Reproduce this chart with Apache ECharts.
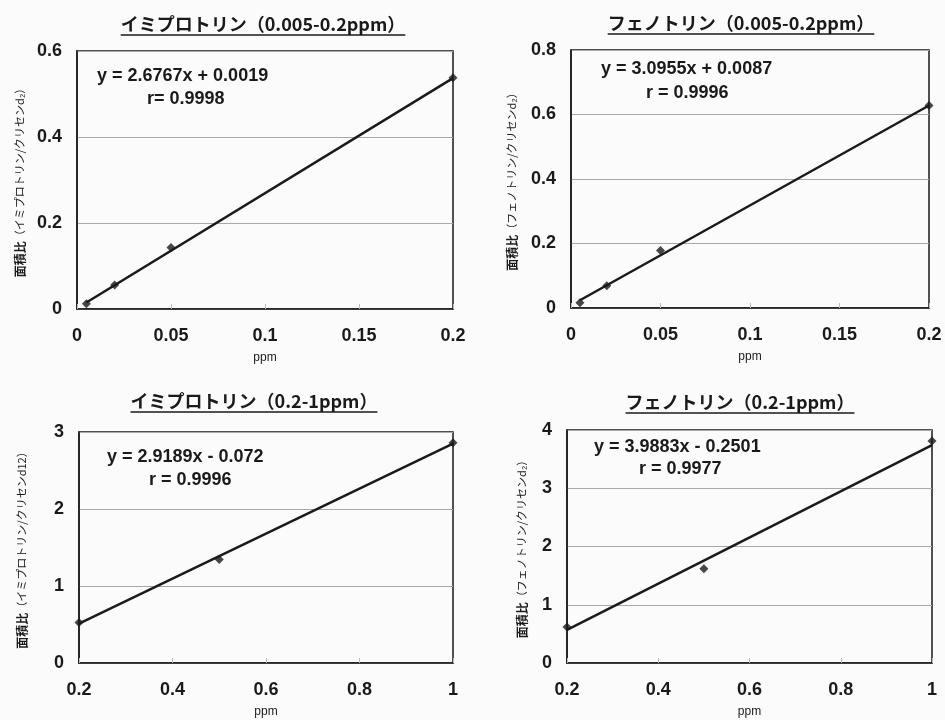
<!DOCTYPE html>
<html><head><meta charset="utf-8">
<script src="https://cdn.jsdelivr.net/npm/echarts@6/dist/echarts.min.js"></script>
<style>html,body{margin:0;padding:0;background:#fbfbfb}#c{width:945px;height:720px}</style>
</head><body><div id="c"></div>
<script>
// ---- data ----
const titles = ['イミプロトリン（0.005-0.2ppm）', 'フェノトリン（0.005-0.2ppm）', 'イミプロトリン（0.2-1ppm）', 'フェノトリン（0.2-1ppm）'];
const yNamesHead = ['面積比', '面積比', '面積比', '面積比'];
const yNamesTail = ['（イミプロトリン/クリセンd₂）', '（フェノトリン/クリセンd₂）', '（イミプロトリン/クリセンd12）', '（フェノトリン/クリセンd₂）'];
const xName = 'ppm';

const imiLowX = [0.005, 0.02, 0.05, 0.2];
const imiLowY = [0.012, 0.056, 0.143, 0.538];
const imiLowTrendX = [0.005, 0.2];
const imiLowTrendY = [0.015, 0.537];

const phenLowX = [0.005, 0.02, 0.05, 0.2];
const phenLowY = [0.016, 0.069, 0.178, 0.628];
const phenLowTrendX = [0.005, 0.2];
const phenLowTrendY = [0.024, 0.628];

const imiHighX = [0.2, 0.5, 1];
const imiHighY = [0.525, 1.345, 2.86];
const imiHighTrendX = [0.2, 1];
const imiHighTrendY = [0.51, 2.85];

const phenHighX = [0.2, 0.5, 1];
const phenHighY = [0.62, 1.62, 3.81];
const phenHighTrendX = [0.2, 1];
const phenHighTrendY = [0.57, 3.74];

const eqLines = [
  ['y = 2.6767x + 0.0019', 'r= 0.9998'],
  ['y = 3.0955x + 0.0087', 'r = 0.9996'],
  ['y = 2.9189x - 0.072', 'r = 0.9996'],
  ['y = 3.9883x - 0.2501', 'r = 0.9977']
];

const xMin = [0, 0, 0.2, 0.2], xMax = [0.2, 0.2, 1, 1], xStep = [0.05, 0.05, 0.2, 0.2];
const yMin = [0, 0, 0, 0], yMax = [0.6, 0.8, 3, 4], yStep = [0.2, 0.2, 1, 1];

const pointsX = [imiLowX, phenLowX, imiHighX, phenHighX];
const pointsY = [imiLowY, phenLowY, imiHighY, phenHighY];
const trendX = [imiLowTrendX, phenLowTrendX, imiHighTrendX, phenHighTrendX];
const trendY = [imiLowTrendY, phenLowTrendY, imiHighTrendY, phenHighTrendY];

// ---- layout (pixels) ----
const gridsPx = [
  {left: 77, top: 51, width: 376, height: 258},
  {left: 571, top: 50, width: 358, height: 258},
  {left: 79, top: 432, width: 374, height: 231},
  {left: 567, top: 430, width: 365, height: 233}
];
const titlePos = [[263, 27], [741, 26], [254, 404], [740, 405]];
const eqPos = [[[97, 77], [147, 100]], [[601, 70], [646, 94]], [[107, 458], [149, 481]], [[594, 448], [639, 470]]];
const yNameGap = [51, 53, 51, 39];

const CJK = "'Noto Sans CJK JP', 'Liberation Sans', sans-serif";
const LAT = "'Liberation Sans', 'Noto Sans CJK JP', sans-serif";
const ink = '#1a1a1a';

const measure = (() => { const c = document.createElement('canvas').getContext('2d'); return (t, f) => { c.font = f; return c.measureText(t).width; }; })();

const grid = [], xAxis = [], yAxis = [], series = [], graphic = [];
for (let i = 0; i < 4; i++) {
  grid.push(Object.assign({show: true, borderColor: ink, borderWidth: 1.5, backgroundColor: 'transparent'}, gridsPx[i]));
  xAxis.push({
    type: 'value', gridIndex: i, min: xMin[i], max: xMax[i], interval: xStep[i],
    name: xName, nameLocation: 'middle', nameGap: 43,
    nameTextStyle: {fontFamily: LAT, fontSize: 12, color: ink},
    axisLine: {show: true, lineStyle: {color: ink, width: 1.5}},
    axisTick: {show: true, inside: true, length: 5, lineStyle: {color: '#bbb'}},
    axisLabel: {margin: 18, fontFamily: LAT, fontSize: 18, fontWeight: 'bold', color: ink},
    splitLine: {show: false}
  });
  yAxis.push({
    type: 'value', gridIndex: i, min: yMin[i], max: yMax[i], interval: yStep[i],
    name: '{h|' + yNamesHead[i] + '}{t|' + yNamesTail[i] + '}', nameLocation: 'middle', nameGap: yNameGap[i], nameRotate: 90,
    nameTextStyle: {rich: {h: {fontFamily: CJK, fontSize: 12, fontWeight: 'bold', color: ink}, t: {fontFamily: CJK, fontSize: 11, color: ink}}},
    axisLine: {show: true, lineStyle: {color: ink, width: 1.5}},
    axisTick: {show: false},
    axisLabel: {margin: 15, fontFamily: LAT, fontSize: 18, fontWeight: 'bold', color: ink},
    splitLine: {show: true, lineStyle: {color: '#a8a8a8', width: 1}}
  });
  series.push({
    type: 'line', xAxisIndex: i, yAxisIndex: i, showSymbol: false, silent: true,
    lineStyle: {color: ink, width: 2.5},
    data: trendX[i].map((x, k) => [x, trendY[i][k]])
  });
  series.push({
    type: 'scatter', xAxisIndex: i, yAxisIndex: i, symbol: 'diamond', symbolSize: 9,
    itemStyle: {color: ink},
    data: pointsX[i].map((x, k) => [x, pointsY[i][k]])
  });
  const tf = 'bold 18px ' + CJK;
  const tw = measure(titles[i], tf);
  graphic.push({type: 'text', left: titlePos[i][0] - tw / 2, top: titlePos[i][1] - 12,
    style: {text: titles[i], font: tf, fill: ink}});
  graphic.push({type: 'line', shape: {x1: titlePos[i][0] - tw / 2, y1: titlePos[i][1] + 8, x2: titlePos[i][0] + tw / 2, y2: titlePos[i][1] + 8},
    style: {stroke: ink, lineWidth: 1.5}});
  for (let j = 0; j < 2; j++) {
    graphic.push({type: 'text', left: eqPos[i][j][0], top: eqPos[i][j][1] - 10,
      style: {text: eqLines[i][j], font: 'bold 18px ' + LAT, fill: ink}});
  }
}

const chart = echarts.init(document.getElementById('c'), null, {renderer: 'canvas'});
chart.setOption({backgroundColor: '#fbfbfb', animation: false, grid, xAxis, yAxis, series, graphic});
</script></body></html>
